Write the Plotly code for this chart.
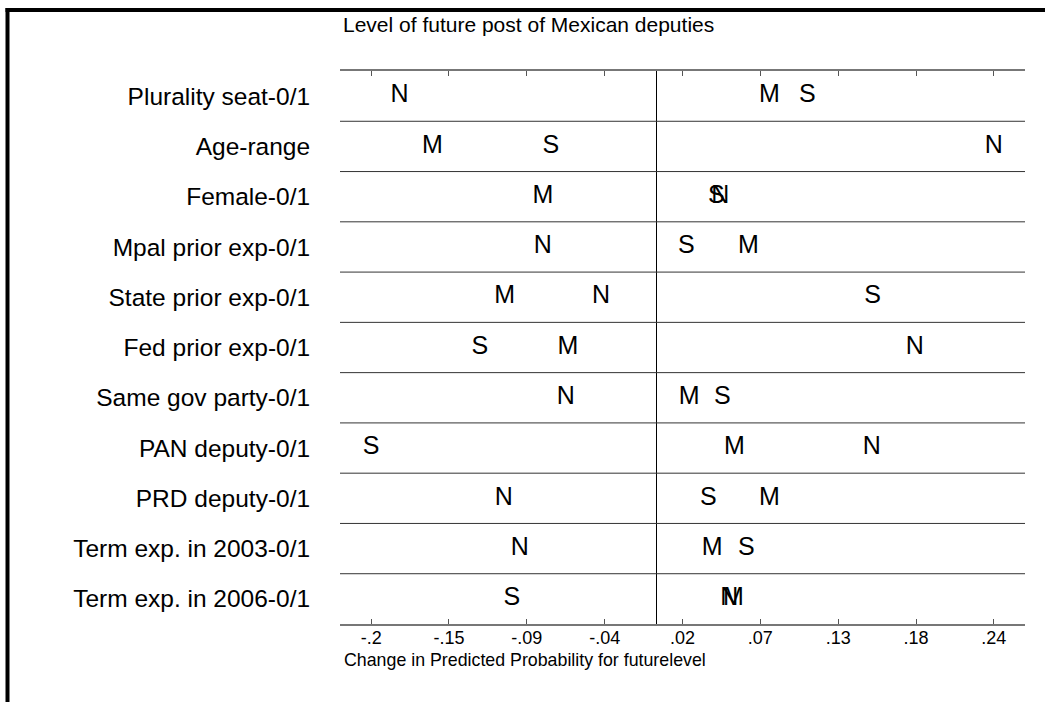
import numpy as np
import plotly.graph_objects as go

rows = ["Plurality seat-0/1", "Age-range", "Female-0/1", "Mpal prior exp-0/1",
        "State prior exp-0/1", "Fed prior exp-0/1", "Same gov party-0/1",
        "PAN deputy-0/1", "PRD deputy-0/1", "Term exp. in 2003-0/1",
        "Term exp. in 2006-0/1"]

N_vals = [-0.1797, 0.2357, 0.0445, -0.0795, -0.0389, 0.1804, -0.0634, 0.1503, -0.1068, -0.0956, 0.0508]
M_vals = [0.0788, -0.1566, -0.0795, 0.0641, -0.1061, -0.0620, 0.0228, 0.0543, 0.0788, 0.0389, 0.0536]
S_vals = [0.1054, -0.0739, 0.0417, 0.0207, 0.1510, -0.1236, 0.0459, -0.1995, 0.0361, 0.0627, -0.1012]

tick_labels = ["-.2", "-.15", "-.09", "-.04", ".02", ".07", ".13", ".18", ".24"]

title_text = "Level of future post of Mexican deputies"
xtitle_text = "Change in Predicted Probability for futurelevel"

FONT = "Liberation Sans, Arial, Helvetica, sans-serif"

all_vals = np.array(N_vals + M_vals + S_vals)
vmin, vmax = all_vals.min(), all_vals.max()
span = vmax - vmin
tickvals = np.linspace(vmin, vmax, len(tick_labels))
yidx = list(range(len(rows)))

fig = go.Figure()
for name, vals in [("M", M_vals), ("S", S_vals), ("N", N_vals)]:
    fig.add_trace(go.Scatter(
        x=vals, y=yidx, mode="text", text=[name] * len(vals),
        textposition="middle center",
        textfont=dict(family=FONT, size=25, color="black"),
        showlegend=False, hoverinfo="skip"))

W, H = 1045, 702
L, R, T, B = 340, 20, 71, 78
pw, ph = W - L - R, H - T - B


def px_x(p):
    return (p - L) / pw


def px_y(p):
    return (H - B - p) / ph


shapes = []
for i in range(len(rows) - 1):
    shapes.append(dict(type="line", xref="paper", yref="y", x0=0, x1=1,
                       y0=i + 0.5, y1=i + 0.5, line=dict(color="#333333", width=1)))
# outer frame: thick left and top edges
shapes.append(dict(type="rect", xref="paper", yref="paper",
                   x0=px_x(5.5), x1=px_x(9.5), y0=px_y(8), y1=px_y(720),
                   fillcolor="black", line=dict(width=0), layer="above"))
shapes.append(dict(type="rect", xref="paper", yref="paper",
                   x0=px_x(5.5), x1=px_x(1060), y0=px_y(8), y1=px_y(12),
                   fillcolor="black", line=dict(width=0), layer="above"))

fig.update_layout(
    width=W, height=H,
    margin=dict(l=L, r=R, t=T, b=B),
    paper_bgcolor="white", plot_bgcolor="white",
    font=dict(family=FONT, color="black"),
    title=dict(text=title_text, x=343 / W, xanchor="left", xref="container",
               y=1 - 25 / H, yanchor="middle", yref="container",
               font=dict(family=FONT, size=21, color="black")),
    xaxis=dict(range=[vmin - 0.05 * span, vmax + 0.05 * span],
               tickvals=tickvals, ticktext=tick_labels,
               ticks="inside", ticklen=5, tickwidth=1, tickcolor="#555555",
               showline=True, linecolor="#777777", linewidth=2, mirror="ticks",
               showgrid=False, zeroline=True, zerolinecolor="black", zerolinewidth=1,
               ticklabelstandoff=-4,
               tickfont=dict(family=FONT, size=18, color="black")),
    yaxis=dict(range=[len(rows) - 0.5, -0.5], tickvals=yidx, ticktext=rows,
               ticks="outside", ticklen=24, tickcolor="rgba(0,0,0,0)",
               showline=False, showgrid=False, zeroline=False,
               tickfont=dict(family=FONT, size=24.5, color="black")),
    shapes=shapes,
    annotations=[dict(text=xtitle_text, xref="paper", yref="paper",
                      x=2 / pw, y=(H - B - 660) / ph, xanchor="left", yanchor="middle",
                      showarrow=False, font=dict(family=FONT, size=17.8, color="black"))],
)

fig.write_html("out.html", config={"displayModeBar": False},
               post_script="document.body.style.margin='0';document.body.style.overflow='hidden';window.scrollTo(0,0);")
